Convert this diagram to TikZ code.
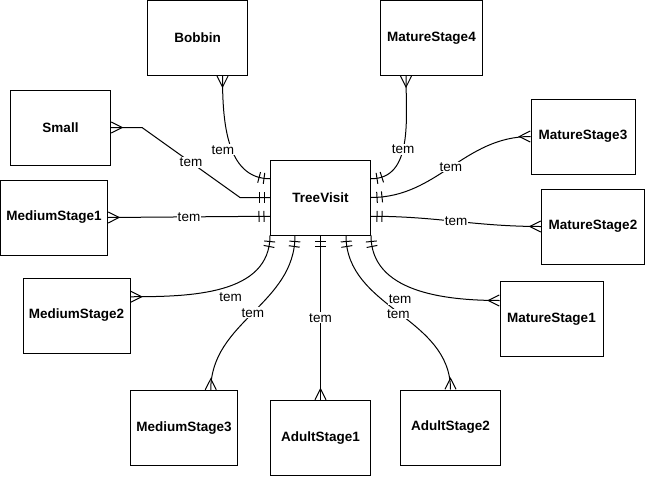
\documentclass[tikz,border=0pt]{standalone}
\usepackage{fontspec}
\setmainfont{Liberation Sans}
\usetikzlibrary{decorations.markings}

\begin{document}
\begin{tikzpicture}[x=1pt, y=-1pt, every node/.style={font=\fontsize{13.5}{16}\selectfont}]
\tikzstyle{entity}=[draw, line width=1pt, rectangle, minimum height=75pt, inner sep=0pt, font=\fontsize{13.5}{16}\selectfont\bfseries]
\tikzstyle{lbl}=[fill=white, inner sep=1pt]
\tikzstyle{rel}=[line width=1pt, postaction={decorate, decoration={markings,
  mark=at position 6pt with {\draw[line width=1pt] (0pt,-5.5pt)--(0pt,5.5pt);},
  mark=at position 11pt with {\draw[line width=1pt] (0pt,-5.5pt)--(0pt,5.5pt);},
  mark=at position 0.999 with {\draw[line width=1pt] (0pt,5.5pt)--(-11pt,0pt)--(0pt,-5.5pt);}}}]
\useasboundingbox (0,0) rectangle (654,477);
\node[entity, minimum width=100pt] (tv) at (320.5,197.5) {TreeVisit};
\node[entity, minimum width=100pt] (bobbin) at (197.5,38) {Bobbin};
\node[entity, minimum width=102pt] (mt4) at (431.5,38) {MatureStage4};
\node[entity, minimum width=100pt] (small) at (60.5,127.5) {Small};
\node[entity, minimum width=107pt] (md1) at (54,217.5) {MediumStage1};
\node[entity, minimum width=107pt] (md2) at (76.5,315.5) {MediumStage2};
\node[entity, minimum width=107pt] (md3) at (184,428) {MediumStage3};
\node[entity, minimum width=100pt] (as1) at (320.5,438) {AdultStage1};
\node[entity, minimum width=100pt] (as2) at (450.5,427.5) {AdultStage2};
\node[entity, minimum width=103pt] (mt1) at (551.5,319) {MatureStage1};
\node[entity, minimum width=103pt] (mt2) at (593,226.5) {MatureStage2};
\node[entity, minimum width=104pt] (mt3) at (583,136.5) {MatureStage3};
\draw[rel] ([yshift=18.75pt]tv.west) to[out=180, in=-90] node[lbl, pos=0.45, xshift=-9pt]{tem} ([xshift=25pt]bobbin.south);
\draw[rel] (tv.west) -- ++(-30,0) -- ([xshift=31pt]small.east) node[lbl, midway]{tem} -- (small.east);
\draw[rel] ([yshift=-18.75pt]tv.west) -- node[lbl]{tem} (md1.east);
\draw[rel] (tv.south west) to[out=-90, in=0] node[lbl, pos=0.45, yshift=-11pt]{tem} ([yshift=18.75pt]md2.east);
\draw[rel] ([xshift=25pt]tv.south west) to[out=-90, in=90] node[lbl]{tem} ([xshift=26.75pt]md3.north);
\draw[rel] (tv.south) -- node[lbl]{tem} (as1.north);
\draw[rel] ([xshift=-25pt]tv.south east) to[out=-90, in=90] node[lbl, yshift=-1.5pt]{tem} (as2.north);
\draw[rel] (tv.south east) to[out=-90, in=180] node[lbl, pos=0.4, yshift=-16.5pt]{tem} ([yshift=18.5pt]mt1.west);
\draw[rel] ([yshift=-18.75pt]tv.east) to[out=0, in=180] node[lbl]{tem} (mt2.west);
\draw[rel] (tv.east) to[out=0, in=180] node[lbl]{tem} (mt3.west);
\draw[rel] ([yshift=18.75pt]tv.east) to[out=0, in=-90] node[lbl, pos=0.45]{tem} ([xshift=-25.5pt]mt4.south);
\end{tikzpicture}
\end{document}
